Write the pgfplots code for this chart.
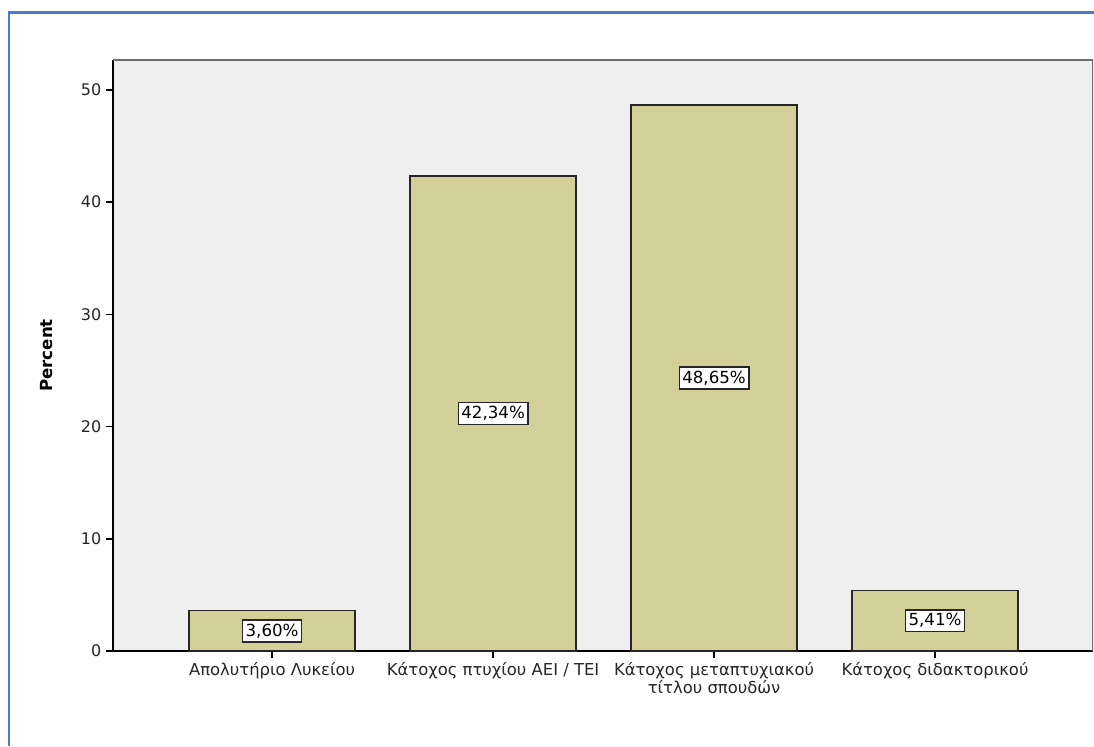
\documentclass[border=0pt]{standalone}
\usepackage{pgfplots}
\pgfplotsset{compat=1.18}
\usepackage{fontspec}
\setmainfont{DejaVu Sans}
\definecolor{barfill}{RGB}{211,207,152}
\definecolor{plotbg}{RGB}{239,239,239}
\definecolor{frameblue}{RGB}{72,122,206}
\definecolor{edgegray}{RGB}{110,110,110}

\begin{document}
\begin{tikzpicture}[x=1pt,y=1pt]
    \path[use as bounding box] (0,0) rectangle (820.5,-559.5);
    \draw[frameblue, line width=1.6pt] (6.8,-559.5) -- (6.8,-9.4) -- (820.5,-9.4);
    \begin{axis}[
        at={(84.75pt,-488.25pt)}, anchor=south west,
        scale only axis,
        width=735pt, height=443.25pt,
        ymin=0, ymax=52.67,
        xmin=-0.72, xmax=3.715,
        ybar, bar width=0.75,
        axis background/.style={fill=plotbg},
        axis lines*=left,
        axis line style={black, line width=1.2pt},
        tick align=outside,
        major tick length=5.25pt,
        tick style={black, line width=1.2pt},
        ytick={0,10,20,30,40,50},
        xtick={0,1,2,3},
        xticklabels={Απολυτήριο Λυκείου, Κάτοχος πτυχίου ΑΕΙ / ΤΕΙ, {Κάτοχος μεταπτυχιακού\\τίτλου σπουδών}, Κάτοχος διδακτορικού},
        xticklabel style={align=center, font=\fontsize{12.3}{10.5}\selectfont, color=black!85},
        yticklabel style={font=\fontsize{12}{14}\selectfont, color=black!85},
        /pgf/number format/assume math mode=true,
        ylabel={\bfseries Percent},
        ylabel style={at={(axis description cs:-0.068,0.5)}, anchor=center, font=\fontsize{12.5}{14}\selectfont},
        visualization depends on={y \as \rawy},
        nodes near coords={\pgfmathprintnumber[fixed,precision=2,zerofill,use comma]{\pgfplotspointmeta}\%},
        nodes near coords align={anchor=center},
        every node near coord/.append style={anchor=center, yshift={-\rawy*4.2078pt},
            fill=white, draw=black!85, line width=1.2pt, inner xsep=2.2pt, inner ysep=2.8pt,
            font=\fontsize{12.5}{14}\selectfont},
    ]
        \addplot[draw=black!85, line width=1.2pt, fill=barfill]
            coordinates {(0,3.60) (1,42.34) (2,48.65) (3,5.41)};
        \draw[edgegray, line width=1.5pt] (rel axis cs:0,1) -- (rel axis cs:1,1) -- (rel axis cs:1,0);
    \end{axis}
\end{tikzpicture}
\end{document}
